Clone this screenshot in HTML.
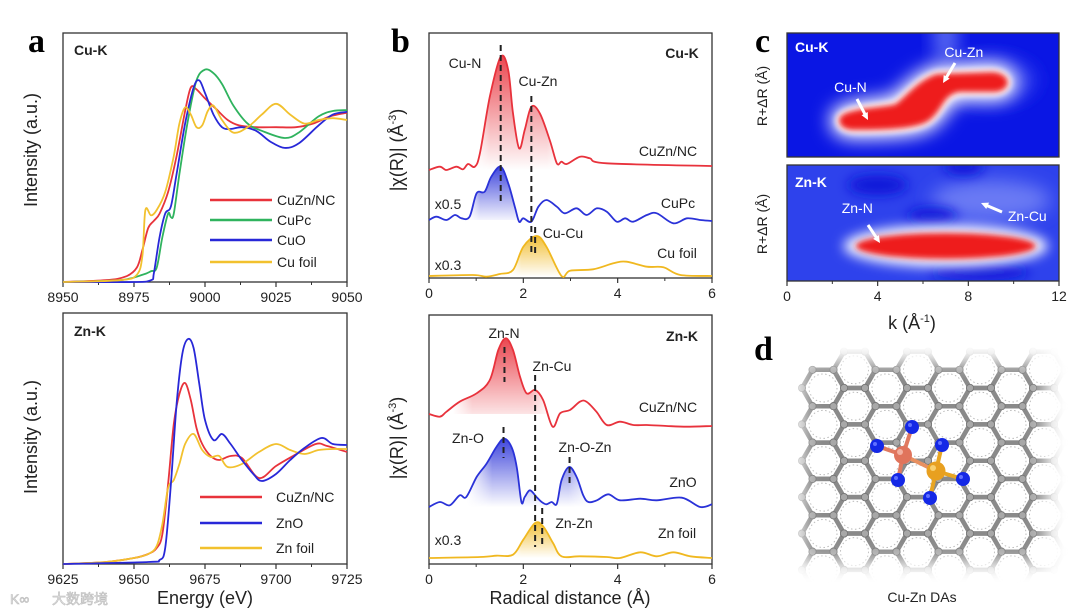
<!DOCTYPE html>
<html><head><meta charset="utf-8">
<style>
html,body{margin:0;padding:0;background:#fff;width:1080px;height:615px;overflow:hidden;}
svg{display:block;font-family:"Liberation Sans","Noto Sans CJK SC",sans-serif;}
.tk{font-size:14px;fill:#222;text-anchor:middle;}
.lbl{font-size:14px;}
.let{font-family:"Liberation Serif",serif;font-weight:bold;font-size:34px;fill:#000;}
.ttl{font-size:18px;fill:#222;}
</style></head>
<body>
<svg id="fig" width="1080" height="615" viewBox="0 0 1080 615">
<defs>
  <linearGradient id="gRed" x1="0" y1="0" x2="0" y2="1"><stop offset="0" stop-color="#e8323c" stop-opacity="0.9"/><stop offset="1" stop-color="#e8323c" stop-opacity="0"/></linearGradient>
  <linearGradient id="gBlue" x1="0" y1="0" x2="0" y2="1"><stop offset="0" stop-color="#2a32d8" stop-opacity="0.9"/><stop offset="1" stop-color="#2a32d8" stop-opacity="0"/></linearGradient>
  <linearGradient id="gYel" x1="0" y1="0" x2="0" y2="1"><stop offset="0" stop-color="#f0b820" stop-opacity="0.9"/><stop offset="1" stop-color="#f0b820" stop-opacity="0"/></linearGradient>
  <filter id="b3" x="-50%" y="-100%" width="200%" height="300%"><feGaussianBlur stdDeviation="3"/></filter>
  <filter id="b6" x="-50%" y="-100%" width="200%" height="300%"><feGaussianBlur stdDeviation="6"/></filter>
  <filter id="b9" x="-50%" y="-100%" width="200%" height="300%"><feGaussianBlur stdDeviation="9"/></filter>
  <filter id="bm" filterUnits="userSpaceOnUse" x="770" y="330" width="300" height="265"><feGaussianBlur stdDeviation="9"/></filter>
  <clipPath id="cTop"><rect x="787" y="33" width="272" height="124"/></clipPath>
  <clipPath id="cBot"><rect x="787" y="165" width="272" height="116"/></clipPath>
  <mask id="latMask" maskUnits="userSpaceOnUse" x="770" y="330" width="300" height="265"><rect x="802" y="362" width="244" height="200" fill="#fff" filter="url(#bm)"/></mask>
</defs>
<g id="root"></g>
</svg>
<script>
// ---------- Panel a (XANES) data ----------
const aTopCuZnE=[8950,8965,8972,8976,8978,8980,8982,8984,8987,8990,8993,8995,8997,9000,9004,9008,9012,9018,9025,9032,9038,9044,9050];
const aTopCuZnV=[0,0.01,0.03,0.08,0.18,0.3,0.34,0.38,0.5,0.7,0.95,1.08,1.07,1.02,0.96,0.9,0.87,0.86,0.86,0.86,0.88,0.92,0.94];
const aTopCuPcE=[8950,8970,8978,8981,8983,8985,8987,8988,8989,8991,8994,8997,9000,9003,9006,9010,9015,9020,9028,9033,9040,9045,9050];
const aTopCuPcV=[0,0.01,0.04,0.06,0.08,0.25,0.38,0.36,0.38,0.6,0.9,1.12,1.18,1.16,1.1,0.98,0.88,0.84,0.8,0.83,0.92,0.95,0.955];
const aTopCuOE=[8950,8975,8981,8982,8984,8986,8988,8990,8993,8996,8998,9000,9003,9006,9009,9013,9018,9023,9028,9033,9040,9045,9050];
const aTopCuOV=[0,0,0.01,0.05,0.25,0.38,0.42,0.6,0.88,1.08,1.12,1.05,0.93,0.86,0.85,0.86,0.84,0.78,0.745,0.77,0.87,0.93,0.945];
const aTopFoilE=[8950,8970,8976,8978,8979,8981,8983,8986,8989,8991,8993,8995,8997,8999,9001,9003,9006,9010,9015,9020,9025,9030,9035,9040,9045,9050];
const aTopFoilV=[0,0.01,0.04,0.15,0.4,0.37,0.4,0.5,0.7,0.88,0.97,0.93,0.86,0.87,0.95,0.98,0.9,0.83,0.86,0.93,0.99,0.93,0.88,0.9,0.91,0.9];
const aTopTicks=[8950,8975,9000,9025,9050];

const aBotCuZnE=[9625,9640,9650,9655,9658,9660,9662,9664,9666,9668,9670,9672,9674,9677,9680,9684,9688,9694,9700,9706,9714,9718,9725];
const aBotCuZnV=[0,0.01,0.03,0.05,0.08,0.15,0.4,0.7,0.85,0.905,0.82,0.68,0.6,0.54,0.52,0.54,0.53,0.43,0.49,0.54,0.6,0.59,0.56];
const aBotZnOE=[9625,9655,9659,9661,9663,9665,9667,9669,9671,9673,9675,9678,9681,9684,9688,9692,9695,9700,9705,9710,9716,9720,9725];
const aBotZnOV=[0,0.01,0.02,0.08,0.4,0.8,1.05,1.125,1.08,0.9,0.72,0.62,0.65,0.6,0.52,0.45,0.415,0.45,0.52,0.58,0.63,0.6,0.595];
const aBotFoilE=[9625,9640,9650,9655,9658,9660,9662,9664,9666,9668,9671,9674,9677,9680,9683,9688,9694,9700,9705,9710,9715,9720,9725];
const aBotFoilV=[0,0.01,0.03,0.05,0.09,0.2,0.38,0.42,0.5,0.6,0.65,0.57,0.535,0.54,0.485,0.5,0.56,0.6,0.57,0.55,0.57,0.575,0.575];
const aBotTicks=[9625,9650,9675,9700,9725];

// ---------- Panel b (FT-EXAFS) data ----------
const bTopCuZnR=[0,0.23,0.37,0.58,0.72,0.83,0.97,1.08,1.29,1.52,1.68,1.78,1.91,2.03,2.17,2.35,2.56,2.71,2.81,2.92,3.2,3.41,3.77,6.0];
const bTopCuZnH=[0,3.3,0,3.3,0.7,6,3.3,16.7,73.3,113.3,100,56.7,21.7,40,63.3,56.7,30,6.7,8.3,6,13.3,11.7,6.7,4];
const bTopCuPcR=[0,0.16,0.37,0.55,0.69,0.86,1.01,1.18,1.32,1.52,1.68,1.82,1.91,2.0,2.17,2.32,2.49,2.71,2.88,3.13,3.34,3.56,3.77,3.98,4.16,4.33,4.62,4.83,5.18,5.47,5.75,6.0];
const bTopCuPcH=[0,3.3,0,5,1.7,3.3,26.7,28.3,43.3,53.3,36.7,13.3,-1.7,1.7,-1.7,13.3,20,13.3,6.7,11.7,5,11.7,8.3,-1.7,1.7,-1.7,5,6.7,-3.3,1.7,0,-1];
const bTopFoilR=[0,0.93,1.22,1.5,1.78,2.0,2.28,2.49,2.81,2.99,3.48,3.91,4.19,4.62,4.97,5.33,6.0];
const bTopFoilH=[0,1,-0.7,2,6,29.3,40,29.3,0,5.3,6.7,12.7,14.3,9.3,8.7,1,0];

const bBotCuZnR=[0,0.23,0.37,0.65,1.01,1.29,1.47,1.63,1.78,1.93,2.07,2.25,2.42,2.62,2.78,2.99,3.2,3.34,3.55,3.77,4.05,4.33,4.62,5.04,5.47,6.0];
const bBotCuZnH=[0,-2.7,2.3,12.3,20.7,34,64,75.7,64,37.3,20.7,24,14,-12.7,0.7,4,12.3,12.3,2.3,-11,-7.7,-11,-11,-12,-12.7,-12];
const bBotZnOR=[0,0.23,0.44,0.65,0.79,1.01,1.22,1.43,1.59,1.75,1.86,1.96,2.03,2.14,2.28,2.39,2.49,2.6,2.71,2.81,2.97,3.13,3.27,3.38,3.56,3.8,4.05,4.48,4.83,5.36,5.75,6.0];
const bBotZnOH=[0,5,1.7,11.7,10,30,43.3,60,68.3,60,40,5,10,16.7,10,5,2.7,5,3.3,26.7,40,30,11.7,5,6.7,12.7,6.7,8.3,6.7,9.3,0,2.7];
const bBotFoilR=[0,1.08,1.43,1.78,2.0,2.25,2.42,2.63,2.81,3.2,3.77,4.05,4.48,4.83,5.18,5.54,6.0];
const bBotFoilH=[0,1,2.3,3.3,18.3,35,31.7,15,1.7,1.7,1,0,5.7,1.7,5.7,1.7,0];
const bTicks=[0,2,4,6];
const cTicks=[0,4,8,12];

const NS='http://www.w3.org/2000/svg';
const root=document.getElementById('root');
const defs=document.querySelector('defs');
function mk(tag,attrs,parent){const e=document.createElementNS(NS,tag);for(const k in attrs)e.setAttribute(k,attrs[k]);(parent||root).appendChild(e);return e;}
function txt(s,x,y,cls,extra,parent){const ex=Object.assign({fill:'#222'},extra||{});const e=mk('text',Object.assign({x:x,y:y,class:cls},ex),parent);e.textContent=s;return e;}
function smooth(pts){let d='M'+pts[0][0].toFixed(1)+','+pts[0][1].toFixed(1);
  for(let i=0;i<pts.length-1;i++){const p0=pts[i-1]||pts[i],p1=pts[i],p2=pts[i+1],p3=pts[i+2]||p2;
    const c1=[p1[0]+(p2[0]-p0[0])/6,p1[1]+(p2[1]-p0[1])/6],c2=[p2[0]-(p3[0]-p1[0])/6,p2[1]-(p3[1]-p1[1])/6];
    d+='C'+c1[0].toFixed(1)+','+c1[1].toFixed(1)+' '+c2[0].toFixed(1)+','+c2[1].toFixed(1)+' '+p2[0].toFixed(1)+','+p2[1].toFixed(1);}
  return d;}
function frame(x0,y0,x1,y1,name){const r=mk('rect',{x:x0,y:y0,width:x1-x0,height:y1-y0,fill:'none',stroke:'#333','stroke-width':1.3});
  
  }
function xticks(ticks,sx,y,name,minor){const g=mk('g',{});
  
  
  ticks.forEach((t,i)=>{const x=sx(t);mk('line',{x1:x,x2:x,y1:y,y2:y+5,stroke:'#333','stroke-width':1.2},g);txt(String(t),x,y+20,'tk',{},g);
    if(i<ticks.length-1&&minor){const xm=sx((t+ticks[i+1])/2);mk('line',{x1:xm,x2:xm,y1:y,y2:y+3,stroke:'#333','stroke-width':1},g);}});}

// ===== Panel a top =====
const axT=e=>63+(e-8950)*(284/100), ayT=v=>282-v*180;
frame(63,33,347,282,'panel-a-top-frame');
xticks(aTopTicks,axT,282,'panel-a-top-x-ticks',true);
[[aTopCuZnE,aTopCuZnV,'#e8333b','cuzn-nc-cu-xanes'],[aTopCuPcE,aTopCuPcV,'#2fb35e','cupc-xanes'],[aTopCuOE,aTopCuOV,'#2828d8','cuo-xanes'],[aTopFoilE,aTopFoilV,'#f2c12e','cu-foil-xanes']].forEach(s=>{
  const p=mk('path',{d:smooth(s[0].map((e,i)=>[axT(e),ayT(s[1][i])])),fill:'none',stroke:s[2],'stroke-width':1.8});
  
  });
[['CuZn/NC','#e8333b',200],['CuPc','#2fb35e',220],['CuO','#2828d8',240],['Cu foil','#f2c12e',262]].forEach(l=>{
  const g=mk('g',{});
  
  
  mk('line',{x1:210,x2:272,y1:l[2],y2:l[2],stroke:l[1],'stroke-width':2.5},g);txt(l[0],277,l[2]+5,'lbl',{'font-size':15},g);});
txt('Cu-K',74,55,'lbl',{'font-weight':'bold','font-size':13});
txt('Intensity (a.u.)',37,150,'ttl',{transform:'rotate(-90 37 150)','text-anchor':'middle',});

// ===== Panel a bottom =====
const axB=e=>63+(e-9625)*(284/100), ayB=v=>564-v*200;
frame(63,313,347,564,'panel-a-bottom-frame');
xticks(aBotTicks,axB,564,'panel-a-bottom-x-ticks',true);
[[aBotCuZnE,aBotCuZnV,'#e8333b','cuzn-nc-zn-xanes'],[aBotFoilE,aBotFoilV,'#f2c12e','zn-foil-xanes'],[aBotZnOE,aBotZnOV,'#2828d8','zno-xanes']].forEach(s=>{
  const p=mk('path',{d:smooth(s[0].map((e,i)=>[axB(e),ayB(s[1][i])])),fill:'none',stroke:s[2],'stroke-width':1.8});
  
  });
[['CuZn/NC','#e8333b',497],['ZnO','#2828d8',523],['Zn foil','#f2c12e',548]].forEach(l=>{
  const g=mk('g',{});
  
  
  mk('line',{x1:200,x2:262,y1:l[2],y2:l[2],stroke:l[1],'stroke-width':2.5},g);txt(l[0],276,l[2]+5,'lbl',{'font-size':15},g);});
txt('Zn-K',74,336,'lbl',{'font-weight':'bold','font-size':13});
txt('Intensity (a.u.)',37,437,'ttl',{transform:'rotate(-90 37 437)','text-anchor':'middle'});
txt('Energy (eV)',205,604,'ttl',{'text-anchor':'middle',});

// ===== Panel b =====
const bx=r=>429+r*(283/6);
let maskId=0;
function bSeries(R,H,base,color,grad,name,r0,r1){
  const pts=R.map((r,i)=>[bx(r),base-H[i]]);const d=smooth(pts);
  const id='bm'+(maskId++);
  const lg=mk('linearGradient',{id:id+'g',gradientUnits:'userSpaceOnUse',x1:bx(r0),x2:bx(r1),y1:0,y2:0},defs);
  [[0,0],[0.2,1],[0.8,1],[1,0]].forEach(s=>mk('stop',{offset:s[0],'stop-color':'#fff','stop-opacity':s[1]},lg));
  const m=mk('mask',{id:id,maskUnits:'userSpaceOnUse',x:420,y:30,width:300,height:540},defs);
  mk('rect',{x:bx(r0),y:30,width:bx(r1)-bx(r0),height:540,fill:'url(#'+id+'g)'},m);
  const f=mk('path',{d:d+'L'+bx(R[R.length-1])+','+base+'L'+bx(R[0])+','+base+'Z',fill:'url(#'+grad+')',stroke:'none',mask:'url(#'+id+')'});
  
  
  const p=mk('path',{d:d,fill:'none',stroke:color,'stroke-width':1.8});
  
  }
function dash(x,y1,y2){mk('line',{x1:x,x2:x,y1:y1,y2:y2,stroke:'#222','stroke-width':2,'stroke-dasharray':'6,4'});}
frame(429,33,712,278,'panel-b-top-frame');
xticks(bTicks,bx,278,'panel-b-top-x-ticks',true);
bSeries(bTopFoilR,bTopFoilH,276,'#f0b820','gYel','cu-foil-ft',1.7,3.0);
bSeries(bTopCuPcR,bTopCuPcH,220,'#2a32d8','gBlue','cupc-ft',0.8,2.2);
bSeries(bTopCuZnR,bTopCuZnH,170,'#e8323c','gRed','cuzn-nc-cu-ft',0.9,2.9);
dash(bx(1.52),45,202);dash(bx(2.17),96,253);dash(bx(2.25),227,253);
txt('Cu-N',465,68,'lbl',{'text-anchor':'middle'});txt('Cu-Zn',538,86,'lbl',{'text-anchor':'middle'});
txt('Cu-K',682,58,'lbl',{'text-anchor':'middle','font-weight':'bold','font-size':13});
txt('CuZn/NC',668,156,'lbl',{'text-anchor':'middle'});txt('CuPc',678,208,'lbl',{'text-anchor':'middle'});
txt('x0.5',448,209,'lbl',{'text-anchor':'middle','font-size':13});txt('Cu-Cu',563,238,'lbl',{'text-anchor':'middle'});
txt('Cu foil',677,258,'lbl',{'text-anchor':'middle'});txt('x0.3',448,270,'lbl',{'text-anchor':'middle','font-size':13});
txt('|χ(R)| (Å',403,150,'ttl',{transform:'rotate(-90 403 150)','text-anchor':'middle'});

frame(429,315,712,564,'panel-b-bottom-frame');
xticks(bTicks,bx,564,'panel-b-bottom-x-ticks',true);
bSeries(bBotFoilR,bBotFoilH,558,'#f0b820','gYel','zn-foil-ft',1.7,3.0);
bSeries(bBotZnOR,bBotZnOH,507,'#2a32d8','gBlue','zno-ft',0.8,3.5);
bSeries(bBotCuZnR,bBotCuZnH,414,'#e8323c','gRed','cuzn-nc-zn-ft',0.5,2.6);
dash(bx(1.6),347,382);dash(bx(2.25),375,547);dash(bx(1.58),427,458);dash(bx(2.98),457,487);dash(bx(2.4),508,547);
txt('Zn-N',504,338,'lbl',{'text-anchor':'middle'});txt('Zn-Cu',552,371,'lbl',{'text-anchor':'middle'});
txt('Zn-K',682,341,'lbl',{'text-anchor':'middle','font-weight':'bold','font-size':13});
txt('CuZn/NC',668,412,'lbl',{'text-anchor':'middle'});txt('Zn-O',468,443,'lbl',{'text-anchor':'middle'});
txt('Zn-O-Zn',585,452,'lbl',{'text-anchor':'middle'});txt('ZnO',683,487,'lbl',{'text-anchor':'middle'});
txt('Zn-Zn',574,528,'lbl',{'text-anchor':'middle'});txt('Zn foil',677,538,'lbl',{'text-anchor':'middle'});
txt('x0.3',448,545,'lbl',{'text-anchor':'middle','font-size':13});
txt('|χ(R)| (Å',403,438,'ttl',{transform:'rotate(-90 403 438)','text-anchor':'middle'});
txt('Radical distance (Å)',570,604,'ttl',{'text-anchor':'middle',});

// ===== Panel c (WT maps) =====
const cx=k=>787+k*(272/12);
let g=mk('g',{'clip-path':'url(#cTop)'});


mk('rect',{x:787,y:33,width:272,height:124,fill:'#0a16e4'},g);
mk('ellipse',{cx:cx(7),cy:38,rx:12,ry:25,fill:'#5a6af2',filter:'url(#b9)'},g);
mk('ellipse',{cx:cx(9),cy:80,rx:45,ry:22,fill:'#3040ee',filter:'url(#b9)'},g);
const cuShape='M'+cx(2.3)+',120 C'+cx(2.3)+',108 '+cx(4.2)+',108 '+cx(4.8)+',104 C'+cx(5.3)+',95 '+cx(5.8)+',80 '+cx(6.6)+',74 L'+cx(9)+',72 C'+cx(9.9)+',72 '+cx(10)+',90 '+cx(9.2)+',92 L'+cx(7.6)+',92 C'+cx(6.9)+',95 '+cx(6.9)+',108 '+cx(6.4)+',118 C'+cx(6)+',128 '+cx(4.8)+',130 '+cx(3)+',130 C'+cx(2.5)+',130 '+cx(2.3)+',126 '+cx(2.3)+',120Z';
mk('path',{d:cuShape,fill:'#fff',stroke:'#fff','stroke-width':18,filter:'url(#b9)'},g);
mk('path',{d:cuShape,fill:'#fff',stroke:'#fff','stroke-width':7,filter:'url(#b3)'},g);
mk('path',{d:cuShape,fill:'#ee1a1a',filter:'url(#b3)'},g);
g=mk('g',{'clip-path':'url(#cBot)'});


mk('rect',{x:787,y:165,width:272,height:116,fill:'#2e42ec'},g);
mk('ellipse',{cx:cx(9),cy:200,rx:60,ry:20,fill:'#6a7af4',filter:'url(#b9)'},g);
mk('ellipse',{cx:cx(4),cy:185,rx:30,ry:10,fill:'#0816d8',filter:'url(#b6)'},g);
mk('ellipse',{cx:cx(6.4),cy:216,rx:25,ry:8,fill:'#0816d8',filter:'url(#b6)'},g);
mk('ellipse',{cx:cx(7.8),cy:167,rx:20,ry:8,fill:'#0816d8',filter:'url(#b6)'},g);
mk('ellipse',{cx:cx(8.5),cy:272,rx:50,ry:8,fill:'#0816d8',filter:'url(#b6)'},g);
mk('ellipse',{cx:cx(7),cy:246,rx:102,ry:21,fill:'#fff',filter:'url(#b6)'},g);
mk('ellipse',{cx:cx(7),cy:246,rx:90,ry:13,fill:'#ee1a1a',filter:'url(#b3)'},g);
frame(787,33,1059,157,'panel-c-top-frame');frame(787,165,1059,281,'panel-c-bottom-frame');
xticks(cTicks,cx,281,'panel-c-x-ticks',true);
[[cx(0)+8,52,'Cu-K',1],[cx(7.8),57,'Cu-Zn',0],[cx(2.8),92,'Cu-N',0],[cx(0)+8,187,'Zn-K',1],[cx(3.1),213,'Zn-N',0],[cx(10.6),221,'Zn-Cu',0]].forEach(t=>{
  txt(t[2],t[0],t[1],'lbl',{fill:'#fff',style:'fill:#fff','font-weight':t[3]?'bold':'normal','text-anchor':t[3]?'start':'middle','font-size':t[3]?13:14});});
[[857,99,868,120],[955,63,943,83],[868,225,880,243],[1002,212,981,203]].forEach(a=>{
  const ang=Math.atan2(a[3]-a[1],a[2]-a[0]);mk('line',{x1:a[0],y1:a[1],x2:a[2]-4*Math.cos(ang),y2:a[3]-4*Math.sin(ang),stroke:'#fff','stroke-width':3});
  const hx=a[2],hy=a[3],s=8;mk('polygon',{points:hx+','+hy+' '+(hx-s*Math.cos(ang-0.45))+','+(hy-s*Math.sin(ang-0.45))+' '+(hx-s*Math.cos(ang+0.45))+','+(hy-s*Math.sin(ang+0.45)),fill:'#fff'});});
txt('R+ΔR (Å)',767,96,'lbl',{transform:'rotate(-90 767 96)','text-anchor':'middle','font-size':15});
txt('R+ΔR (Å)',767,224,'lbl',{transform:'rotate(-90 767 224)','text-anchor':'middle','font-size':15});
const kt=txt('k (Å',912,329,'ttl',{'text-anchor':'middle','font-size':17});
const sup=mk('tspan',{dy:-7,'font-size':11},kt);sup.textContent='-1';const cl=mk('tspan',{dy:7},kt);cl.textContent=')';

// ===== Panel d (structure) =====
const lat=mk('g',{mask:'url(#latMask)'});


const HR=21,CS=1.5*HR,RS=Math.sqrt(3)*HR;const verts=[];
for(let c=0;c<10;c++){for(let r=0;r<7;r++){const hx=823-2*CS+c*CS,hy=388-RS+r*RS+(c%2?RS/2:0);
  if(hy+HR>592||hy-HR<335||hx+HR>1075||hx-HR<775)continue;
  const pts=[];for(let i=0;i<6;i++){const an=i*Math.PI/3;pts.push([hx+HR*Math.cos(an),hy+HR*Math.sin(an)]);}
  mk('circle',{cx:hx,cy:hy,r:14,fill:'none',stroke:'#b8b8b8','stroke-width':1,'stroke-dasharray':'1.5,2.5'},lat);
  mk('polygon',{points:pts.map(p=>p[0].toFixed(1)+','+p[1].toFixed(1)).join(' '),fill:'none',stroke:'#8a8a8a','stroke-width':4.5},lat);
  pts.forEach(p=>verts.push(p));}}
verts.forEach(p=>mk('circle',{cx:p[0],cy:p[1],r:3.6,fill:'#a8a8a8',stroke:'#777','stroke-width':0.8},lat));
const cu=[903,455],zn=[936,471];
const nAt=[[912,427],[877,446],[898,480],[942,445],[930,498],[963,479]];
const mol=mk('g',{});


nAt.slice(0,3).forEach(n=>mk('line',{x1:cu[0],y1:cu[1],x2:n[0],y2:n[1],stroke:'#e07a60','stroke-width':4},mol));
nAt.slice(3).forEach(n=>mk('line',{x1:zn[0],y1:zn[1],x2:n[0],y2:n[1],stroke:'#e8a522','stroke-width':4},mol));
mk('line',{x1:cu[0],y1:cu[1],x2:zn[0],y2:zn[1],stroke:'#e89060','stroke-width':4},mol);
nAt.forEach(n=>{mk('circle',{cx:n[0],cy:n[1],r:7,fill:'#1428e6'},mol);mk('circle',{cx:n[0]-2,cy:n[1]-2,r:2,fill:'#6070ff'},mol);});
mk('circle',{cx:cu[0],cy:cu[1],r:9,fill:'#e0745c'},mol);mk('circle',{cx:cu[0]-3,cy:cu[1]-3,r:3,fill:'#f2b0a0'},mol);
mk('circle',{cx:zn[0],cy:zn[1],r:9.5,fill:'#e8a020'},mol);mk('circle',{cx:zn[0]-3,cy:zn[1]-3,r:3,fill:'#f8d070'},mol);
txt('Cu-Zn DAs',922,602,'lbl',{'text-anchor':'middle','font-size':16});

// panel letters & watermark
[['a',28,52],['b',391,52],['c',755,52],['d',754,360]].forEach(l=>txt(l[0],l[1],l[2],'let',{fill:'#000'}));
txt('大数跨境',52,604,'lbl',{'font-size':21,fill:'#e6e6e6',style:'fill:#e6e6e6',stroke:'#bbb','stroke-width':0.6,});
txt('K∞',10,604,'lbl',{'font-size':20,fill:'#e6e6e6',style:'fill:#e6e6e6',stroke:'#bbb','stroke-width':0.6});

document.querySelectorAll('text').forEach(t=>{if(t.textContent==='|χ(R)| (Å'){
  const s=document.createElementNS(NS,'tspan');s.setAttribute('dy','-7');s.setAttribute('font-size','11');s.textContent='-3';t.appendChild(s);
  const c=document.createElementNS(NS,'tspan');c.setAttribute('dy','7');c.textContent=')';t.appendChild(c);}});
</script>
</body></html>
